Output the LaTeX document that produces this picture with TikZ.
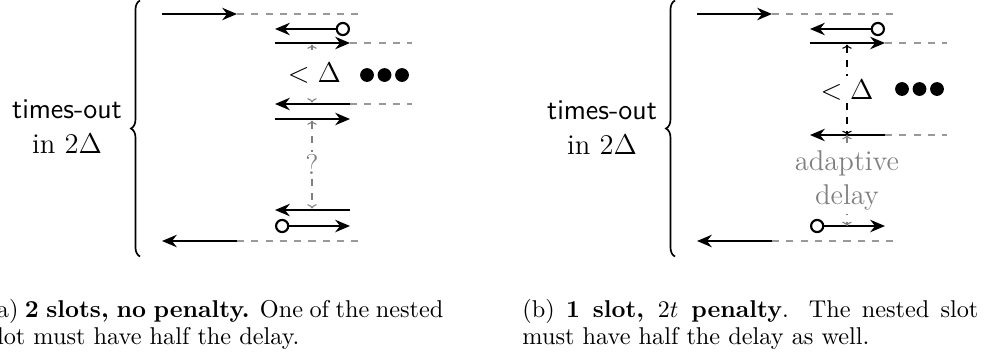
\documentclass[tikz,border=0pt]{standalone}
\usetikzlibrary{arrows.meta,decorations.pathreplacing}
\begin{document}
\begin{tikzpicture}[x=0.42pt,y=-0.42pt,
  msg/.style={line width=0.9pt,-{Stealth[length=6.2pt,width=5.2pt,inset=2pt]}},
  omsg/.style={line width=0.9pt,{Circle[open,length=6pt,width=6pt]}-{Stealth[length=6.2pt,width=5.2pt,inset=2pt]}},
  guide/.style={gray!80,dashed,line width=0.45pt},
  delayspan/.style={gray,dashed,line width=0.45pt,{To[length=1.8pt,width=4pt]}-{To[length=1.8pt,width=4pt]}},
  lbl/.style={font=\fontsize{12}{14.6}\selectfont},
  dotmark/.style={circle,fill=black,inner sep=0pt,minimum size=5.8pt},
  timebrace/.style={decorate,decoration={brace,amplitude=3.8pt},line width=0.7pt},
  capt/.style={text width=191.5pt,align=justify,inner sep=0pt,anchor=north west,font=\fontsize{10.2}{11.4}\selectfont}]
\fill[white] (0,0) rectangle (985,358);
\clip (0,0) rectangle (985,358);

% ---------- (a) two slots ----------
\coordinate (a-s1) at (162,14);  \coordinate (a-e1) at (237,14);  \coordinate (a-g1) at (358,14);
\coordinate (a-c2) at (350,29);  \coordinate (a-l2) at (275,29);
\coordinate (a-l3) at (275,43);  \coordinate (a-r3) at (350,43);  \coordinate (a-g3) at (412,43);
\coordinate (a-r4) at (350,104); \coordinate (a-l4) at (275,104); \coordinate (a-g4) at (412,104);
\coordinate (a-l5) at (275,119); \coordinate (a-r5) at (350,119);
\coordinate (a-r6) at (350,210); \coordinate (a-l6) at (275,210);
\coordinate (a-c7) at (275,226); \coordinate (a-r7) at (350,226);
\coordinate (a-e8) at (237,241); \coordinate (a-s8) at (162,241); \coordinate (a-g8) at (358,241);
\coordinate (a-v3) at (312,44.5);  \coordinate (a-v4) at (312,102.5);
\coordinate (a-v5) at (312,120.5); \coordinate (a-v6) at (312,208.5);
\coordinate (a-bb) at (140,256.5); \coordinate (a-bt) at (140,0.5);

\draw[timebrace] (a-bb) -- (a-bt);
\node[lbl,align=center] (a-to) at (67,127) {\textsf{times-out}\\in $2\Delta$};

\draw[msg] (a-s1) -- (a-e1);
\draw[guide] (a-e1) -- (a-g1);
\draw[omsg] (a-c2) -- (a-l2);
\draw[msg] (a-l3) -- (a-r3);
\draw[guide] (a-r3) -- (a-g3);
\draw[msg] (a-r4) -- (a-l4);
\draw[guide] (a-r4) -- (a-g4);
\draw[msg] (a-l5) -- (a-r5);
\draw[msg] (a-r6) -- (a-l6);
\draw[omsg] (a-c7) -- (a-r7);
\draw[msg] (a-e8) -- (a-s8);
\draw[guide] (a-e8) -- (a-g8);

\draw[delayspan] (a-v3) -- node[lbl,fill=white,text=black,inner sep=1pt,minimum height=20pt,xshift=1pt] (a-lt) {$<\Delta$} (a-v4);
\draw[delayspan] (a-v5) -- node[lbl,fill=white,text=gray,inner sep=1pt] (a-q) {?} (a-v6);

\node[dotmark] (a-d1) at (367,75) {};
\node[dotmark] (a-d2) at (384.5,75) {};
\node[dotmark] (a-d3) at (402,75) {};

\node[capt] (a-cap) at (-13,299) {(a) \textbf{2 slots, no penalty.} One of the nested\linebreak slot must have half the delay.};

% ---------- (b) one slot ----------
\coordinate (b-s1) at (697,14);  \coordinate (b-e1) at (772,14);  \coordinate (b-g1) at (893,14);
\coordinate (b-c2) at (885,29);  \coordinate (b-l2) at (810,29);
\coordinate (b-l3) at (810,43);  \coordinate (b-r3) at (885,43);  \coordinate (b-g3) at (947,43);
\coordinate (b-r4) at (885,135); \coordinate (b-l4) at (810,135); \coordinate (b-g4) at (947,135);
\coordinate (b-c5) at (810,226); \coordinate (b-r5) at (885,226);
\coordinate (b-e8) at (772,241); \coordinate (b-s8) at (697,241); \coordinate (b-g8) at (893,241);
\coordinate (b-v3) at (847,44.5); \coordinate (b-v4) at (847,135); \coordinate (b-v5) at (847,226);
\coordinate (b-bb) at (675,256.5); \coordinate (b-bt) at (675,0.5);

\draw[timebrace] (b-bb) -- (b-bt);
\node[lbl,align=center] (b-to) at (602,128) {\textsf{times-out}\\in $2\Delta$};

\draw[msg] (b-s1) -- (b-e1);
\draw[guide] (b-e1) -- (b-g1);
\draw[omsg] (b-c2) -- (b-l2);
\draw[msg] (b-l3) -- (b-r3);
\draw[guide] (b-r3) -- (b-g3);
\draw[msg] (b-r4) -- (b-l4);
\draw[guide] (b-r4) -- (b-g4);
\draw[omsg] (b-c5) -- (b-r5);
\draw[msg] (b-e8) -- (b-s8);
\draw[guide] (b-e8) -- (b-g8);

\draw[delayspan,black] (b-v3) -- node[lbl,fill=white,inner sep=1.5pt] (b-lt) {$<\Delta$} (b-v4);
\draw[delayspan] (b-v4) -- node[lbl,fill=white,text=gray,inner sep=1.5pt,align=center] (b-ad) {adaptive\\delay} (b-v5);

\node[dotmark] (b-d1) at (902,89) {};
\node[dotmark] (b-d2) at (919.5,89) {};
\node[dotmark] (b-d3) at (937,89) {};

\node[capt] (b-cap) at (522,299) {(b) \textbf{1 slot, $2t$ penalty}. The nested slot\linebreak must have half the delay as well.};
\end{tikzpicture}
\end{document}
